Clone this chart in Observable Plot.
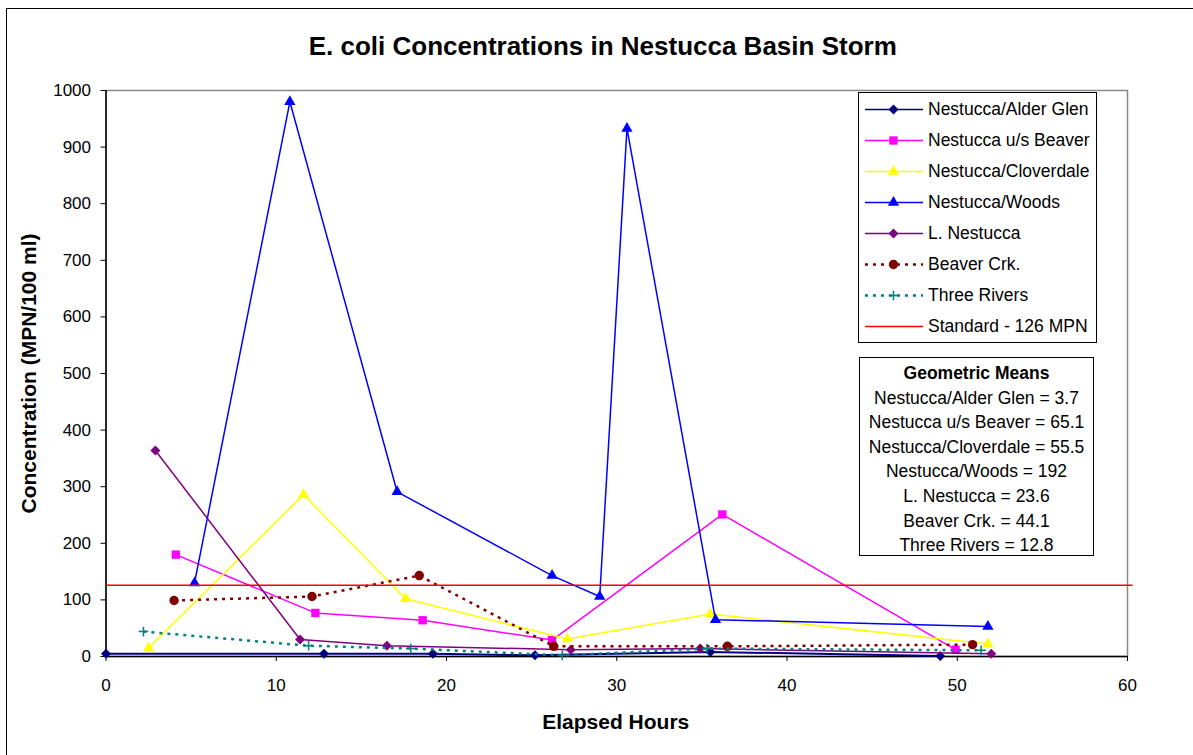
<!DOCTYPE html>
<html>
<head>
<meta charset="utf-8">
<script src="https://cdn.jsdelivr.net/npm/d3@7"></script>
<script src="https://cdn.jsdelivr.net/npm/@observablehq/plot@0.6"></script>
<style>
  body { margin: 0; background: #fff; font-family: "Liberation Sans", Arial, sans-serif; }
  #wrap { position: relative; width: 1193px; height: 755px; overflow: hidden; background: #fff; }
  #border { position: absolute; left: 6px; top: 8px; width: 1200px; height: 760px; border: 1px solid #000; box-sizing: border-box; }
  #chart { position: absolute; left: 0; top: 0; }
  .box { position: absolute; border: 1px solid #000; background: #fff; box-sizing: border-box; }
  .lrow { position: absolute; left: 0; height: 31px; width: 100%; }
  .lrow svg { position: absolute; left: 0; top: 0; }
  .lrow span { position: absolute; left: 69px; top: 0; line-height: 31px; font-size: 17.5px; white-space: nowrap; color: #000; }
  .mrow { position: absolute; left: 0; width: 100%; text-align: center; font-size: 17.5px; line-height: 24px; white-space: nowrap; color: #000; }
</style>
</head>
<body>
<div id="wrap">
  <div id="border"></div>
  <div id="chart"></div>
  <div id="legend" class="box"></div>
  <div id="means" class="box"></div>
</div>
<script>
// ---------------- data ----------------
const chartTitle = "E. coli Concentrations in Nestucca Basin Storm";
const xTitle = "Elapsed Hours";
const yTitle = "Concentration (MPN/100 ml)";
const xTicks = [0, 10, 20, 30, 40, 50, 60];
const yTicks = [0, 100, 200, 300, 400, 500, 600, 700, 800, 900, 1000];

const seriesNames = [
  "Nestucca/Alder Glen", "Nestucca u/s Beaver", "Nestucca/Cloverdale", "Nestucca/Woods",
  "L. Nestucca", "Beaver Crk.", "Three Rivers", "Standard - 126 MPN"
];

const alderHours = [0, 12.8, 19.2, 25.2, 35.5, 49.0];
const alderConc = [5, 5, 5, 2, 8, 1];
const usBeaverHours = [4.1, 12.3, 18.6, 26.2, 36.2, 49.9];
const usBeaverConc = [180, 77, 64, 29, 251, 12];
const cloverdaleHours = [2.5, 11.6, 17.6, 27.1, 35.5, 51.8];
const cloverdaleConc = [15, 286, 102, 31, 75, 22];
const woodsHours = [5.2, 10.8, 17.1, 26.2, 29.0, 30.6, 35.8, 51.8];
const woodsConc = [130, 980, 291, 143, 106, 933, 65, 53];
const lNestuccaHours = [2.9, 11.4, 16.5, 27.3, 34.9, 52.0];
const lNestuccaConc = [364, 30, 19, 12, 14, 5];
const beaverCrkHours = [4.0, 12.1, 18.4, 26.3, 36.5, 50.9];
const beaverCrkConc = [99, 106, 143, 18, 18, 21];
const threeRiversHours = [2.2, 11.9, 17.9, 26.8, 35.3, 51.4];
const threeRiversConc = [44, 19, 14, 2, 14, 11];
const standardHours = [0, 60.3];
const standardConc = [126, 126];

const meansTitle = "Geometric Means";
const meanNames = ["Nestucca/Alder Glen", "Nestucca u/s Beaver", "Nestucca/Cloverdale", "Nestucca/Woods", "L. Nestucca", "Beaver Crk.", "Three Rivers"];
const meanValues = ["3.7", "65.1", "55.5", "192", "23.6", "44.1", "12.8"];

// ---------------- styles ----------------
const styles = [
  {color: "#000080", symbol: "diamond2", r: 4.5, width: 2, dash: null},
  {color: "#FF00FF", symbol: "square", r: 4.7, width: 1.5, dash: null},
  {color: "#FFFF00", symbol: "triangle", r: 4.2, width: 1.5, dash: null},
  {color: "#0000FF", symbol: "triangle", r: 4.2, width: 1.5, dash: null},
  {color: "#800080", symbol: "diamond2", r: 4.5, width: 1.5, dash: null},
  {color: "#800000", symbol: "circle", r: 4.7, width: 2.5, dash: "3,5"},
  {color: "#008080", symbol: "plus", r: 3.2, width: 2.5, dash: "3,5"},
  {color: "#FF0000", symbol: null, r: 0, width: 1.5, dash: null}
];

const seriesData = [
  [alderHours, alderConc], [usBeaverHours, usBeaverConc], [cloverdaleHours, cloverdaleConc],
  [woodsHours, woodsConc], [lNestuccaHours, lNestuccaConc], [beaverCrkHours, beaverCrkConc],
  [threeRiversHours, threeRiversConc], [standardHours, standardConc]
].map(([h, c], i) => h.map((x, j) => ({series: seriesNames[i], hours: x, conc: c[j]})));

const font = "Liberation Sans, Arial, sans-serif";

const marks = [
  Plot.frame({stroke: "#888", strokeWidth: 1.5}),
  Plot.axisX({ticks: xTicks, tickSize: 5, tickPadding: 17, fontSize: 17, label: null, tickFormat: d => String(d)}),
  Plot.axisY({ticks: yTicks, tickSize: 5, tickPadding: 10, fontSize: 17, label: null, tickFormat: d => String(d)}),
  Plot.ruleX([0], {stroke: "#000", strokeWidth: 1.5}),
  Plot.ruleY([0], {stroke: "#000", strokeWidth: 1.5})
];

seriesData.forEach((rows, i) => {
  const s = styles[i];
  marks.push(Plot.line(rows, {x: "hours", y: "conc", stroke: s.color, strokeWidth: s.width, strokeDasharray: s.dash, strokeLinecap: "butt"}));
  if (s.symbol) {
    if (s.symbol === "plus") {
      marks.push(Plot.dot(rows, {x: "hours", y: "conc", symbol: "plus", r: s.r, stroke: s.color, strokeWidth: 1.5, fill: "none"}));
    } else {
      marks.push(Plot.dot(rows, {x: "hours", y: "conc", symbol: s.symbol, r: s.r, fill: s.color, stroke: "none"}));
    }
  }
});

marks.push(
  Plot.text([chartTitle], {text: d => d, frameAnchor: "top", lineAnchor: "middle", dy: -44, dx: -14, fontSize: 26, fontWeight: "bold", fill: "#000"}),
  Plot.text([xTitle], {text: d => d, frameAnchor: "bottom", lineAnchor: "middle", dy: 66, dx: -1, fontSize: 21, fontWeight: "bold", fill: "#000"}),
  Plot.text([yTitle], {text: d => d, frameAnchor: "left", lineAnchor: "middle", textAnchor: "middle", rotate: -90, dx: -77, fontSize: 21, fontWeight: "bold", fill: "#000"})
);

const chart = Plot.plot({
  width: 1193,
  height: 755,
  marginLeft: 105.5,
  marginTop: 90,
  marginRight: 66,
  marginBottom: 99,
  x: {domain: [0, 60]},
  y: {domain: [0, 1000]},
  style: {fontFamily: font, fontSize: "17px", color: "#000", background: "transparent", overflow: "visible"},
  marks
});
document.getElementById("chart").appendChild(chart);

// ---------------- legend ----------------
const legend = document.getElementById("legend");
Object.assign(legend.style, {left: "858px", top: "92px", width: "239px", height: "251px"});
const symbolMap = {diamond2: d3.symbolDiamond2, square: d3.symbolSquare, triangle: d3.symbolTriangle, circle: d3.symbolCircle, plus: d3.symbolPlus};
seriesNames.forEach((name, i) => {
  const s = styles[i];
  const row = document.createElement("div");
  row.className = "lrow";
  row.style.top = (0.5 + i * 31) + "px";
  const ns = "http://www.w3.org/2000/svg";
  const svg = document.createElementNS(ns, "svg");
  svg.setAttribute("width", 68); svg.setAttribute("height", 31);
  const ln = document.createElementNS(ns, "line");
  ln.setAttribute("x1", 6); ln.setAttribute("x2", 64); ln.setAttribute("y1", 15.5); ln.setAttribute("y2", 15.5);
  ln.setAttribute("stroke", s.color); ln.setAttribute("stroke-width", s.dash ? 2.5 : 1.5);
  if (s.dash) ln.setAttribute("stroke-dasharray", s.dash);
  svg.appendChild(ln);
  if (s.symbol) {
    const p = document.createElementNS(ns, "path");
    p.setAttribute("d", d3.symbol(symbolMap[s.symbol], Math.PI * s.r * s.r)());
    p.setAttribute("transform", "translate(34.5,15.5)");
    if (s.symbol === "plus") { p.setAttribute("fill", "none"); p.setAttribute("stroke", s.color); p.setAttribute("stroke-width", 1.5); }
    else { p.setAttribute("fill", s.color); p.setAttribute("stroke", "#fff"); p.setAttribute("stroke-width", 0); }
    svg.appendChild(p);
  }
  row.appendChild(svg);
  const sp = document.createElement("span");
  sp.textContent = name;
  row.appendChild(sp);
  legend.appendChild(row);
});

// ---------------- geometric means ----------------
const means = document.getElementById("means");
Object.assign(means.style, {left: "859px", top: "357px", width: "235px", height: "199px"});
const meanLines = [meansTitle].concat(meanNames.map((n, i) => n + " = " + meanValues[i]));
meanLines.forEach((t, i) => {
  const d = document.createElement("div");
  d.className = "mrow";
  d.style.top = (3 + i * 24.6) + "px";
  if (i === 0) d.style.fontWeight = "bold";
  d.textContent = t;
  means.appendChild(d);
});
</script>
</body>
</html>
